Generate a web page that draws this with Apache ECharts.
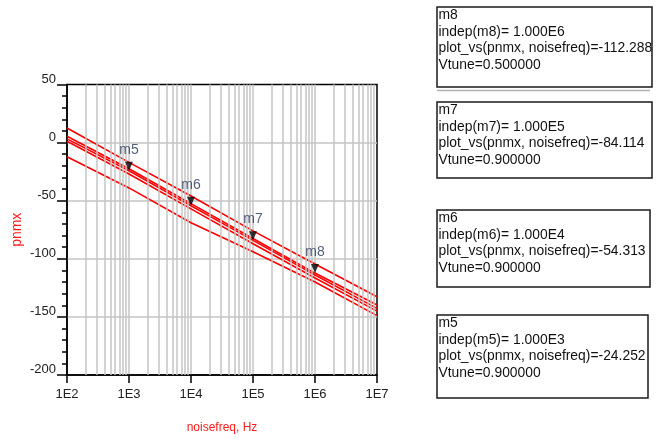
<!DOCTYPE html>
<html>
<head>
<meta charset="utf-8">
<script src="https://cdn.jsdelivr.net/npm/echarts@6/dist/echarts.min.js"></script>
<style>
html,body{margin:0;padding:0;background:#fff;}
#chart{width:661px;height:439px;}
</style>
</head>
<body>
<div id="chart"></div>
<script>
// ---- data ----
var freqs = [1e2, 1e3, 1e4, 1e5, 1e6, 1e7];
var pnTop = [12.5, -17, -46, -76, -104.5, -132.7];
var pnMid1 = [5.4, -22.5, -52.5, -82.5, -112.288, -139.8];
var pnMid2 = [3.2, -24.252, -54.313, -84.114, -114, -142.7];
var pnMid3 = [1.1, -27, -57, -87, -116.5, -145];
var pnBottom = [-12.2, -39, -69, -94, -120, -148.9];

var markerNames = ['m5', 'm6', 'm7', 'm8'];
var markerFreqs = [1e3, 1e4, 1e5, 1e6];
var markerValues = [-24.252, -54.313, -84.114, -112.288];
var markerVtune = [0.9, 0.9, 0.9, 0.5];

var xTickLabels = ['1E2', '1E3', '1E4', '1E5', '1E6', '1E7'];
var yTicks = [50, 0, -50, -100, -150, -200];

// ---- build ----
function pairs(xs, ys) { return xs.map(function (x, i) { return [x, ys[i]]; }); }

var minorGrid = [];
for (var d = 2; d < 7; d++) {
  for (var m = 2; m <= 9; m++) minorGrid.push({ xAxis: m * Math.pow(10, d) });
}

var FONT = 'Liberation Sans, Arial, sans-serif';
var redLine = { color: '#ff0000', width: 1.6 };

function lineSeries(ys) {
  return {
    type: 'line', data: pairs(freqs, ys), showSymbol: false, symbol: 'none',
    lineStyle: redLine, z: 3, silent: true, animation: false
  };
}

var series = [
  {
    type: 'line', data: [], silent: true, animation: false, z: 1,
    markLine: {
      silent: true, symbol: 'none', animation: false,
      label: { show: false },
      lineStyle: { color: '#c4c4c4', width: 1.5, type: 'solid' },
      data: minorGrid
    }
  },
  lineSeries(pnTop), lineSeries(pnMid1), lineSeries(pnMid2), lineSeries(pnMid3), lineSeries(pnBottom),
  {
    type: 'scatter', z: 5, animation: false, silent: true,
    data: markerFreqs.map(function (f, i) { return { value: [f, markerValues[i]], name: markerNames[i] }; }),
    symbol: 'triangle', symbolRotate: 180, symbolSize: [8, 9], symbolOffset: [0, -4.5],
    itemStyle: { color: '#000' },
    label: {
      show: true, position: 'top', distance: 5, formatter: '{b}',
      color: '#26375a', fontSize: 14, fontFamily: FONT
    }
  }
];

// info boxes
var boxRects = [[437, 315, 211, 83], [437, 210, 213, 77], [437, 102, 215, 76], [437, 7, 215, 80]];
var graphics = [];
markerNames.forEach(function (name, i) {
  var r = boxRects[i];
  var exp = Math.round(Math.log10(markerFreqs[i]));
  var txt = name + '\n' +
    'indep(' + name + ')= 1.000E' + exp + '\n' +
    'plot_vs(pnmx, noisefreq)=' + markerValues[i].toFixed(3) + '\n' +
    'Vtune=' + markerVtune[i].toFixed(6);
  graphics.push({
    type: 'rect', shape: { x: r[0], y: r[1], width: r[2], height: r[3] },
    style: { fill: '#fff', stroke: '#1a1a1a', lineWidth: 1.5 }, z: 10
  });
  graphics.push({
    type: 'text', x: r[0] + 1.5, y: r[1] - 0.5, scaleX: 0.925, z: 11,
    style: { text: txt, fill: '#111', font: '15px ' + FONT, lineHeight: 16.7, verticalAlign: 'top', align: 'left' }
  });
});
graphics.push({
  type: 'line', shape: { x1: 437, y1: 90.5, x2: 650, y2: 90.5 },
  style: { stroke: '#b0b0b0', lineWidth: 1.5 }, z: 10
});

var chart = echarts.init(document.getElementById('chart'), null, { renderer: 'canvas' });
chart.setOption({
  animation: false,
  backgroundColor: '#fff',
  grid: { left: 67, right: 284, top: 84.5, bottom: 62, show: true, borderColor: '#000', borderWidth: 1.5, backgroundColor: 'transparent' },
  xAxis: {
    type: 'log', logBase: 10, min: 1e2, max: 1e7,
    name: 'noisefreq, Hz', nameLocation: 'middle', nameGap: 47,
    nameTextStyle: { color: '#ff1a1a', fontSize: 12, fontFamily: FONT },
    axisLine: { show: true, onZero: false, lineStyle: { color: '#000', width: 1.5 } },
    axisTick: { show: true, length: 8, lineStyle: { color: '#000', width: 1.5 } },
    axisLabel: {
      margin: 13, color: '#222', fontSize: 13, fontFamily: FONT,
      formatter: function (v) { return xTickLabels[Math.round(Math.log10(v)) - 2]; }
    },
    splitLine: { show: true, showMinLine: false, showMaxLine: false, lineStyle: { color: '#c4c4c4', width: 1.5 } },
    minorTick: { show: false }
  },
  yAxis: {
    type: 'value', min: yTicks[yTicks.length - 1], max: yTicks[0], interval: 50,
    name: 'pnmx', nameLocation: 'middle', nameGap: 43, nameRotate: 90,
    nameTextStyle: { color: '#ff1a1a', fontSize: 14, fontFamily: FONT },
    axisLine: { show: true, onZero: false, lineStyle: { color: '#000', width: 1.5 } },
    axisTick: { show: true, length: 10, lineStyle: { color: '#000', width: 1.5 } },
    minorTick: { show: true, splitNumber: 5, length: 5, lineStyle: { color: '#000', width: 1.5 } },
    axisLabel: { margin: 11, color: '#222', fontSize: 13, fontFamily: FONT, verticalAlign: 'bottom', lineHeight: 11 },
    splitLine: { show: true, showMinLine: false, showMaxLine: false, lineStyle: { color: '#c4c4c4', width: 1.5 } }
  },
  series: series,
  graphic: graphics
});
</script>
</body>
</html>
